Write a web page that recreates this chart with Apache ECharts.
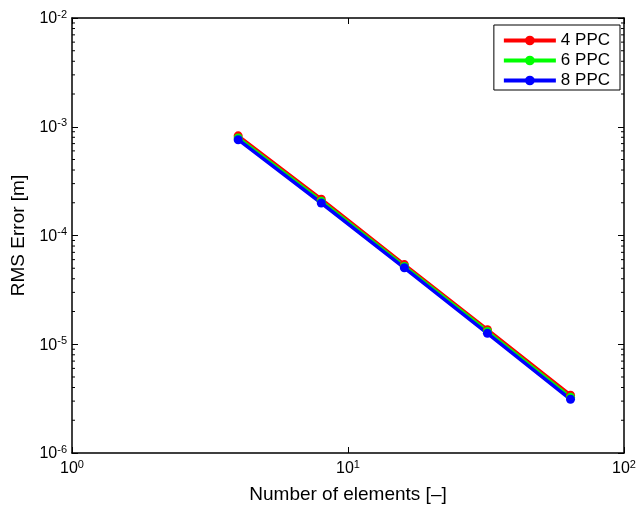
<!DOCTYPE html>
<html>
<head>
<meta charset="utf-8">
<script src="https://cdn.jsdelivr.net/npm/echarts@6/dist/echarts.min.js"></script>
<style>
  html, body { margin: 0; padding: 0; background: #fff; }
  #chart { width: 641px; height: 506px; }
</style>
</head>
<body>
<div id="chart"></div>
<script>
// elements per run
const elements = [4, 8, 16, 32, 64];
// RMS error [m] for each points-per-cycle setting
const err4ppc = [8.25e-4, 2.16e-4, 5.4e-5, 1.36e-5, 3.4e-6];
const err6ppc = [7.9e-4, 2.07e-4, 5.2e-5, 1.31e-5, 3.25e-6];
const err8ppc = [7.6e-4, 1.99e-4, 5.05e-5, 1.26e-5, 3.12e-6];
const seriesNames = ['4 PPC', '6 PPC', '8 PPC'];
const seriesColors = ['#ff0000', '#00ff00', '#0000ff'];

const xRange = [1, 100];
const yRange = [1e-6, 1e-2];

// minor tick positions (2..9 times each decade)
function minorTicks(lo, hi) {
  const out = [];
  for (let d = lo; d < hi; d *= 10) {
    for (let m = 2; m <= 9; m++) out.push(m * d);
  }
  return out;
}
const xMinor = minorTicks(xRange[0], xRange[1]);
const yMinor = minorTicks(yRange[0], yRange[1]);

const font = '"Liberation Sans", Arial, Helvetica, sans-serif';

function powLabel(v) {
  const e = Math.round(Math.log10(v));
  return '{b|10}{s|' + e + '}';
}
const powRich = {
  b: { fontFamily: font, fontSize: 16, color: '#000', verticalAlign: 'bottom', lineHeight: 18 },
  s: { fontFamily: font, fontSize: 11, color: '#000', verticalAlign: 'top', lineHeight: 18, padding: [0, 0, 10, 0] }
};

const tickStyle = { show: true, inside: true, length: 6, lineStyle: { color: '#000', width: 1 } };
const lineStyleAxis = { show: true, onZero: false, lineStyle: { color: '#000', width: 1.5 } };

const chart = echarts.init(document.getElementById('chart'), null, { renderer: 'canvas' });

function makeLine(name, data, color, symbol) {
  return {
    name: name,
    type: 'line',
    data: elements.map((x, i) => [x, data[i]]),
    color: color,
    lineStyle: { color: color, width: 3.5 },
    itemStyle: { color: color },
    symbol: symbol,
    symbolSize: 9,
    showSymbol: true,
    animation: false,
    z: 3
  };
}

const option = {
  animation: false,
  backgroundColor: '#fff',
  grid: { left: 72, right: 17, top: 18, bottom: 53, containLabel: false, outerBoundsMode: 'none' },
  legend: {
    orient: 'vertical',
    right: 21,
    top: 25,
    itemWidth: 52,
    itemHeight: 12,
    itemGap: 3,
    padding: [7, 10, 1, 8],
    borderColor: '#000',
    borderWidth: 1,
    backgroundColor: '#fff',
    lineStyle: { width: 4 },
    textStyle: { fontFamily: font, fontSize: 17, color: '#000', lineHeight: 16 },
    data: seriesNames
  },
  xAxis: [
    {
      type: 'log', logBase: 10, min: xRange[0], max: xRange[1],
      position: 'bottom',
      name: 'Number of elements [\u2013]',
      nameLocation: 'middle', nameGap: 29,
      nameTextStyle: { fontFamily: font, fontSize: 19, color: '#000' },
      axisLine: lineStyleAxis, axisTick: tickStyle,
      axisLabel: { formatter: powLabel, rich: powRich, margin: 6 },
      splitLine: { show: false }
    },
    {
      type: 'log', logBase: 10, min: xRange[0], max: xRange[1],
      position: 'top',
      axisLine: lineStyleAxis, axisTick: tickStyle,
      axisLabel: { show: false }, splitLine: { show: false }
    }
  ],
  yAxis: [
    {
      type: 'log', logBase: 10, min: yRange[0], max: yRange[1],
      position: 'left',
      name: 'RMS Error [m]',
      nameLocation: 'middle', nameGap: 44,
      nameTextStyle: { fontFamily: font, fontSize: 19, color: '#000' },
      axisLine: lineStyleAxis, axisTick: tickStyle,
      axisLabel: { formatter: powLabel, rich: powRich, margin: 5 },
      splitLine: { show: false }
    },
    {
      type: 'log', logBase: 10, min: yRange[0], max: yRange[1],
      position: 'right',
      axisLine: lineStyleAxis, axisTick: tickStyle,
      axisLabel: { show: false }, splitLine: { show: false }
    }
  ],
  series: [
    // minor ticks on the log axes
    {
      type: 'custom',
      silent: true,
      clip: false,
      z: 10,
      xAxisIndex: 0, yAxisIndex: 0,
      data: xMinor.map(v => [v, 'x']).concat(yMinor.map(v => [v, 'y'])),
      renderItem: function (params, api) {
        const v = api.value(0);
        const kind = api.value(1);
        const len = 3;
        const st = { stroke: '#000', lineWidth: 1 };
        if (kind === 'x') {
          const b = api.coord([v, yRange[0]]);
          const t = api.coord([v, yRange[1]]);
          return {
            type: 'group',
            children: [
              { type: 'line', shape: { x1: b[0], y1: b[1], x2: b[0], y2: b[1] - len }, style: st },
              { type: 'line', shape: { x1: t[0], y1: t[1], x2: t[0], y2: t[1] + len }, style: st }
            ]
          };
        }
        const l = api.coord([xRange[0], v]);
        const r = api.coord([xRange[1], v]);
        return {
          type: 'group',
          children: [
            { type: 'line', shape: { x1: l[0], y1: l[1], x2: l[0] + len, y2: l[1] }, style: st },
            { type: 'line', shape: { x1: r[0], y1: r[1], x2: r[0] - len, y2: r[1] }, style: st }
          ]
        };
      },
      dimensions: ['v', { name: 'kind', type: 'ordinal' }]
    },
    makeLine(seriesNames[0], err4ppc, seriesColors[0], 'circle'),
    makeLine(seriesNames[1], err6ppc, seriesColors[1], 'circle'),
    makeLine(seriesNames[2], err8ppc, seriesColors[2], 'circle')
  ]
};

chart.setOption(option);
</script>
</body>
</html>
